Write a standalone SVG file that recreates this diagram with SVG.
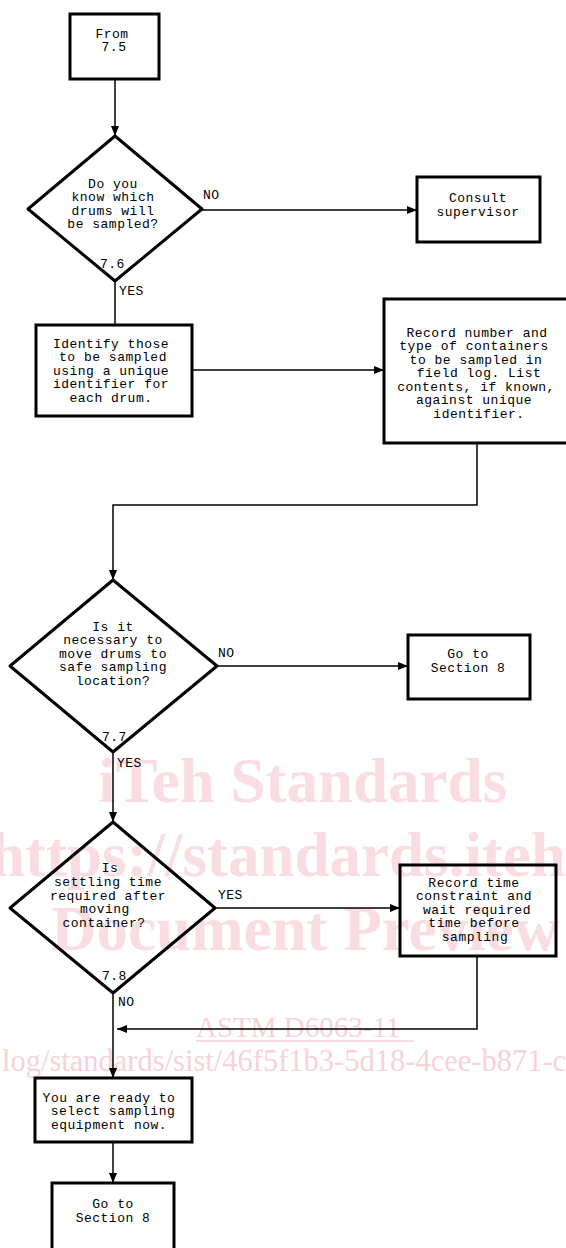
<svg xmlns="http://www.w3.org/2000/svg" width="566" height="1248" viewBox="0 0 566 1248">
  <defs>
    <marker id="arrow" markerWidth="10" markerHeight="8" refX="10" refY="4" orient="auto" markerUnits="userSpaceOnUse">
      <path d="M0,0 L10,4 L0,8 z" fill="#000"/>
    </marker>
    <style>
      .box { fill: none; stroke: #000; stroke-width: 3; }
      .dia { fill: none; stroke: #000; stroke-width: 3; stroke-linejoin: round; }
      .wire { fill: none; stroke: #000; stroke-width: 1.5; }
      .t { font-family: "Liberation Mono", "DejaVu Sans Mono", monospace; font-size: 13px; letter-spacing: 0.5px; fill: #000; text-anchor: middle; }
      .lbl { font-family: "Liberation Mono", "DejaVu Sans Mono", monospace; font-size: 13px; letter-spacing: 0.5px; fill: #000; }
      .wm { font-family: "Liberation Serif", serif; font-weight: bold; font-size: 63px; fill: #f9dde2; }
      .wm2 { font-family: "Liberation Serif", serif; font-size: 29px; fill: #f7d2d9; }
    </style>
  </defs>
  <rect width="566" height="1248" fill="#fff"/>

  <!-- background watermark -->
  <g id="watermark">
    <text class="wm" x="98" y="802">iTeh Standards</text>
    <text class="wm" x="-10" y="876">https://standards.iteh</text>
    <text class="wm" x="51" y="950">Document Preview</text>
    <text class="wm2" x="196" y="1037">ASTM D6063-11</text>
    <line x1="196" y1="1041" x2="414" y2="1041" stroke="#f7d2d9" stroke-width="1.5"/>
    <text class="wm2" x="2" y="1071" style="font-size:30.5px">log/standards/sist/46f5f1b3-5d18-4cee-b871-c</text>
  </g>

  <!-- connectors -->
  <g id="connectors">
    <path class="wire" d="M115,79 V136" marker-end="url(#arrow)"/>
    <path class="wire" d="M202,210 H417" marker-end="url(#arrow)"/>
    <path class="wire" d="M115,281 V325"/>
    <path class="wire" d="M192,370 H384" marker-end="url(#arrow)"/>
    <path class="wire" d="M477,443 V505 H113 V580" marker-end="url(#arrow)"/>
    <path class="wire" d="M217,666 H408" marker-end="url(#arrow)"/>
    <path class="wire" d="M113,752 V822" marker-end="url(#arrow)"/>
    <path class="wire" d="M215,908 H400" marker-end="url(#arrow)"/>
    <path class="wire" d="M477,956 V1029 H117" marker-end="url(#arrow)"/>
    <path class="wire" d="M113,993 V1078" marker-end="url(#arrow)"/>
    <path class="wire" d="M113,1142 V1183" marker-end="url(#arrow)"/>
  </g>

  <!-- start -->
  <g id="from75">
    <rect class="box" x="70" y="14" width="89" height="65"/>
    <text class="t" x="112" y="38">From</text>
    <text class="t" x="114" y="51">7.5</text>
  </g>

  <!-- decision 7.6 -->
  <g id="q76">
    <polygon class="dia" points="115,136 202,209 115,281 28,209"/>
    <text class="t" x="113" y="187.5">Do you</text>
    <text class="t" x="113" y="201">know which</text>
    <text class="t" x="113" y="214.5">drums will</text>
    <text class="t" x="113" y="228">be sampled?</text>
    <text class="lbl" x="203" y="199">NO</text>
    <text class="lbl" x="100" y="268">7.6</text>
    <text class="lbl" x="119" y="294.5">YES</text>
  </g>

  <g id="consult">
    <rect class="box" x="417" y="177" width="123" height="65"/>
    <text class="t" x="478" y="201.5">Consult</text>
    <text class="t" x="478" y="215.5">supervisor</text>
  </g>

  <g id="identify">
    <rect class="box" x="36" y="325" width="156" height="91"/>
    <text class="t" x="111" y="347.5">Identify those</text>
    <text class="t" x="113" y="361">to be sampled</text>
    <text class="t" x="111" y="374.5">using a unique</text>
    <text class="t" x="111" y="388">identifier for</text>
    <text class="t" x="111" y="401.5">each drum.</text>
  </g>

  <g id="record">
    <rect class="box" x="384" y="299" width="200" height="144"/>
    <text class="t" x="477" y="336.5">Record number and</text>
    <text class="t" x="474" y="350">type of containers</text>
    <text class="t" x="476" y="363.5">to be sampled in</text>
    <text class="t" x="479" y="377">field log. List</text>
    <text class="t" x="476" y="390.5">contents, if known,</text>
    <text class="t" x="474" y="404">against unique</text>
    <text class="t" x="479" y="417.5">identifier.</text>
  </g>

  <!-- decision 7.7 -->
  <g id="q77">
    <polygon class="dia" points="113,580 217,666 113,752 10,666"/>
    <text class="t" x="113" y="630.5">Is it</text>
    <text class="t" x="113" y="644">necessary to</text>
    <text class="t" x="113" y="657.5">move drums to</text>
    <text class="t" x="113" y="671">safe sampling</text>
    <text class="t" x="113" y="684.5">location?</text>
    <text class="lbl" x="218" y="657">NO</text>
    <text class="lbl" x="102" y="741">7.7</text>
    <text class="lbl" x="117" y="767">YES</text>
  </g>

  <g id="goto8a">
    <rect class="box" x="408" y="635" width="122" height="64"/>
    <text class="t" x="468" y="658">Go to</text>
    <text class="t" x="468" y="671.5">Section 8</text>
  </g>

  <!-- decision 7.8 -->
  <g id="q78">
    <polygon class="dia" points="113,822 215,908 113,993 10,908"/>
    <text class="t" x="110" y="872">Is</text>
    <text class="t" x="108" y="886">settling time</text>
    <text class="t" x="108" y="899.5">required after</text>
    <text class="t" x="105" y="912.5">moving</text>
    <text class="t" x="104" y="926.5">container?</text>
    <text class="lbl" x="218" y="899">YES</text>
    <text class="lbl" x="102" y="980">7.8</text>
    <text class="lbl" x="118" y="1006">NO</text>
  </g>

  <g id="waittime">
    <rect class="box" x="400" y="865" width="156" height="91"/>
    <text class="t" x="474" y="886.5">Record time</text>
    <text class="t" x="474" y="899.5">constraint and</text>
    <text class="t" x="477" y="913.5">wait required</text>
    <text class="t" x="474" y="926.5">time before</text>
    <text class="t" x="475" y="940.5">sampling</text>
  </g>

  <g id="ready">
    <rect class="box" x="35" y="1078" width="157" height="64"/>
    <text class="t" x="109" y="1101.5">You are ready to</text>
    <text class="t" x="113" y="1114.5">select sampling</text>
    <text class="t" x="109" y="1128.5">equipment now.</text>
  </g>

  <g id="goto8b">
    <rect class="box" x="52" y="1183" width="122" height="90"/>
    <text class="t" x="113" y="1208">Go to</text>
    <text class="t" x="113" y="1221.5">Section 8</text>
  </g>
</svg>
